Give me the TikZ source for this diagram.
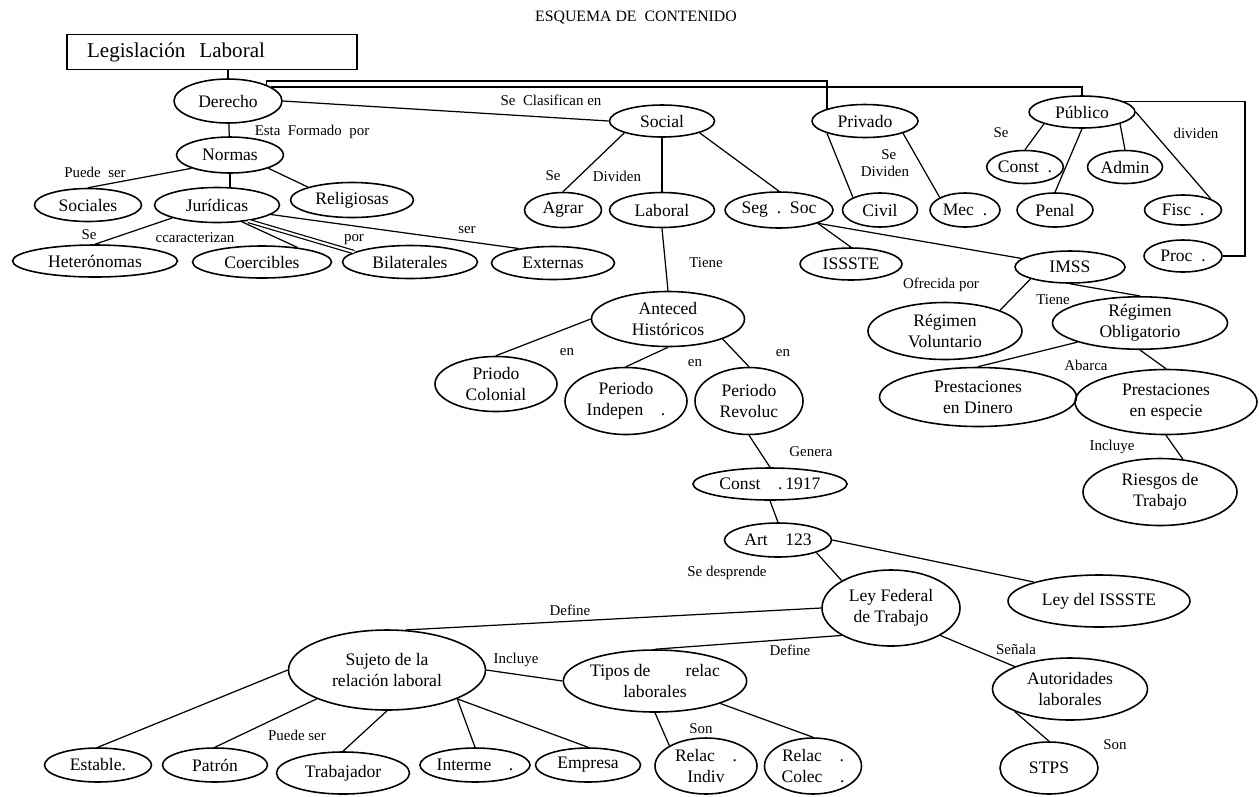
\documentclass[tikz,border=0pt]{standalone}
\usepackage{fontspec}
\setmainfont{Liberation Serif}
\usetikzlibrary{shapes.geometric}

\begin{document}
\begin{tikzpicture}[x=0.02cm, y=-0.02cm, line width=0.7pt,
    concept/.style={draw, ellipse, line width=0.9pt, inner sep=0pt, align=center, font=\fontsize{10}{12}\selectfont},
    wh/.style 2 args={minimum width=#1*0.02cm, minimum height=#2*0.02cm},
    link/.style={font=\fontsize{8.5}{10}\selectfont, inner sep=0pt, align=center}]
    \useasboundingbox (0,0) rectangle (1259,796);
    \node[font=\fontsize{9}{11}\selectfont] (title) at (636,18) {ESQUEMA DE\ \ CONTENIDO};
    \node[draw, rectangle, line width=0.9pt, minimum height=0.7cm, text width=5cm, inner xsep=0.4cm, align=left, font=\fontsize{12}{14}\selectfont] (legis) at (212,52) {Legislación\ \ Laboral};

    \node[concept, wh={108}{44}] (derecho) at (228,101) {Derecho};
    \node[concept, wh={107}{36}] (normas) at (230,155) {Normas};
    \node[concept, wh={107}{33}] (sociales) at (88,205) {Sociales};
    \node[concept, wh={125}{35}] (juridicas) at (217,205) {Jurídicas};
    \node[concept, wh={123}{35}] (religiosas) at (352,200) {Religiosas};
    \node[concept, wh={165}{32}] (heteronomas) at (95,261) {Heterónomas};
    \node[concept, wh={139}{32}] (coercibles) at (262,262) {Coercibles};
    \node[concept, wh={135}{33}] (bilaterales) at (410,262) {Bilaterales};
    \node[concept, wh={123}{33}] (externas) at (553,263) {Externas};
    \node[concept, wh={105}{32}] (social) at (662,121) {Social};
    \node[concept, wh={77}{35}] (agrar) at (563,210) {Agrar};
    \node[concept, wh={105}{35}] (laboral) at (662,210) {Laboral};
    \node[concept, wh={108}{36}] (segsoc) at (779,210) {Seg\ \ .\ \ Soc};
    \node[concept, wh={106}{33}] (privado) at (865,121) {Privado};
    \node[concept, wh={75}{34}] (civil) at (880,210) {Civil};
    \node[concept, wh={70}{34}] (mec) at (965,210) {Mec\ \ .};
    \node[concept, wh={106}{32}] (publico) at (1082,112) {Público};
    \node[concept, wh={75}{33}] (const) at (1025,167) {Const\ \ .};
    \node[concept, wh={75}{33}] (admin) at (1125,167) {Admin};
    \node[concept, wh={76}{34}] (penal) at (1055,210) {Penal};
    \node[concept, wh={77}{30}] (fisc) at (1183,210) {Fisc\ \ .};
    \node[concept, wh={78}{32}] (proc) at (1183,256) {Proc\ \ .};
    \node[concept, wh={102}{32}] (issste) at (851,264) {ISSSTE};
    \node[concept, wh={110}{32}] (imss) at (1070,267) {IMSS};
    \node[concept, wh={154}{57}] (voluntario) at (945,331) {Régimen\\Voluntario};
    \node[concept, wh={175}{50}] (obligatorio) at (1140,323) {Régimen\\Obligatorio};
    \node[concept, wh={197}{59}] (dinero) at (978,397) {Prestaciones\\en Dinero};
    \node[concept, wh={182}{65}] (especie) at (1166,402) {Prestaciones\\en especie};
    \node[concept, wh={154}{67}] (riesgos) at (1160,492) {Riesgos de\\Trabajo};
    \node[concept, wh={153}{55}] (anteced) at (668,319) {Anteced\\Históricos};
    \node[concept, wh={122}{55}] (colonial) at (496,384) {Priodo\\Colonial};
    \node[concept, wh={122}{67}] (indepen) at (626,401) {Periodo\\Indepen\quad.};
    \node[concept, wh={108}{67}] (revoluc) at (749,401) {Periodo\\Revoluc};
    \node[concept, wh={154}{32}] (const1917) at (770,484) {Const\quad.\,1917};
    \node[concept, wh={107}{34}] (art) at (778,540) {Art\quad123};
    \node[concept, wh={138}{76}] (leyfed) at (891,608) {Ley Federal\\de Trabajo};
    \node[concept, wh={182}{52}] (leyissste) at (1099,601) {Ley del ISSSTE};
    \node[concept, wh={197}{80}] (sujeto) at (387,670) {Sujeto de la\\relación laboral};
    \node[concept, wh={180}{62}] (tipos) at (655,681) {Tipos de\qquad relac\\laborales};
    \node[concept, wh={155}{62}] (autoridades) at (1070,689) {Autoridades\\laborales};
    \node[concept, wh={107}{34}] (estable) at (98,765) {Estable.};
    \node[concept, wh={105}{34}] (patron) at (215,765) {Patrón};
    \node[concept, wh={133}{42}] (trabajador) at (343,773) {Trabajador};
    \node[concept, wh={110}{34}] (interme) at (475,765) {Interme\quad.};
    \node[concept, wh={105}{34}] (empresa) at (588,765) {Empresa};
    \node[concept, wh={102}{56}] (indiv) at (706,766) {Relac\quad.\\Indiv};
    \node[concept, wh={97}{56}] (colec) at (813,766) {Relac\quad.\\Colec\quad.};
    \node[concept, wh={98}{52}] (stps) at (1049,768) {STPS};

    \draw (derecho.north) -- (derecho.north |- legis.south);
    \draw (derecho.north east) -- ++(0,-4) -| (privado.north west);
    \draw (derecho.18) -| (publico.north);
    \coordinate (rim) at (1245,0);
    \draw (publico.14) -| (rim |- proc.east) -- (proc.east);
    \draw (derecho) -- (normas);
    \draw (normas.south west) -- (sociales.north);
    \draw (normas.south) -- (normas.south |- juridicas.north);
    \draw (normas.south east) -- (religiosas.north west);
    \draw (juridicas.south west) -- (heteronomas.north);
    \draw (juridicas.-34) -- (coercibles.22);
    \draw[double, double distance=1.2pt] (juridicas.-27) -- (bilaterales.170);
    \draw (juridicas.-10) -- (externas.157);
    \draw (derecho.east) -- (social.west);
    \draw (social.south west) -- (agrar.north);
    \draw (social.south) -- (laboral.north);
    \draw (social.south east) -- (segsoc.north);
    \draw (privado.south west) -- (civil.north west);
    \draw (privado.south east) -- (mec.north west);
    \draw (publico.south west) -- (const.north);
    \draw (publico.south) -- (penal.north);
    \draw (publico.south east) -- (admin.north);
    \draw (publico.east) -- (fisc.north east);
    \draw (segsoc.south east) -- (issste.north);
    \draw (segsoc.south east) -- (imss.170);
    \draw (imss.south west) -- (voluntario.north east);
    \draw (imss.south) -- (obligatorio.north);
    \draw (obligatorio.south west) -- (dinero.north);
    \draw (obligatorio.south) -- (especie.north);
    \draw (especie.south) -- (riesgos.55);
    \draw (laboral.south) -- (anteced.north);
    \draw (anteced.west) -- (colonial.north);
    \draw (anteced.south) -- (indepen.north);
    \draw (anteced.south east) -- (revoluc.north);
    \draw (revoluc.south) -- (const1917.north);
    \draw (const1917.south) -- (art.north);
    \draw (art.south east) -- (leyfed.north west);
    \draw (art.east) -- (leyissste.north west);
    \draw (leyfed.west) -- (sujeto.65);
    \draw (leyfed.south west) -- (tipos.north);
    \draw (leyfed.south east) -- (autoridades.north west);
    \draw (sujeto.east) -- (tipos.west);
    \draw (sujeto.west) -- (estable.north);
    \draw (sujeto.south west) -- (patron.north);
    \draw (sujeto.south) -- (trabajador.north);
    \draw (sujeto.south east) -- (interme.north);
    \draw (sujeto.south east) -- (empresa.north);
    \draw (tipos.south) -- (indiv.north west);
    \draw (tipos.south east) -- (colec.north);
    \draw (autoridades.south west) -- (stps.north);

    \node[link] (formado) at (312,132) {Esta\ \ Formado\ \ por};
    \node[link] (puede) at (95,172) {Puede\ \ ser};
    \node[link] (se1) at (89,235) {Se};
    \node[link] (caract) at (195,238) {ccaracterizan};
    \node[link] (por1) at (354,240) {por};
    \node[link] (ser1) at (467,230) {ser};
    \node[link] (clasif) at (551,100) {Se\ \ Clasifican en};
    \node[link] (se2) at (553,176) {Se};
    \node[link] (dividen1) at (617,176) {Dividen};
    \node[link] (tiene1) at (706,263) {Tiene};
    \node[link] (dividen2) at (885,163) {\ \ Se\\Dividen};
    \node[link] (se3) at (1001,133) {Se};
    \node[link] (dividen3) at (1196,133) {dividen};
    \node[link] (ofrecida) at (941,285) {Ofrecida por};
    \node[link] (tiene2) at (1053,300) {Tiene};
    \node[link] (abarca) at (1086,365) {Abarca};
    \node[link] (incluye1) at (1112,447) {Incluye};
    \node[link] (en1) at (567,352) {en};
    \node[link] (en2) at (695,363) {en};
    \node[link] (en3) at (783,353) {en};
    \node[link] (genera) at (811,452) {Genera};
    \node[link] (desprende) at (727,573) {Se desprende};
    \node[link] (define1) at (570,610) {Define};
    \node[link] (incluye2) at (516,660) {Incluye};
    \node[link] (define2) at (790,650) {Define};
    \node[link] (senala) at (1016,649) {Señala};
    \node[link] (puede2) at (297,735) {Puede ser};
    \node[link] (son1) at (701,729) {Son};
    \node[link] (son2) at (1115,745) {Son};
\end{tikzpicture}
\end{document}
